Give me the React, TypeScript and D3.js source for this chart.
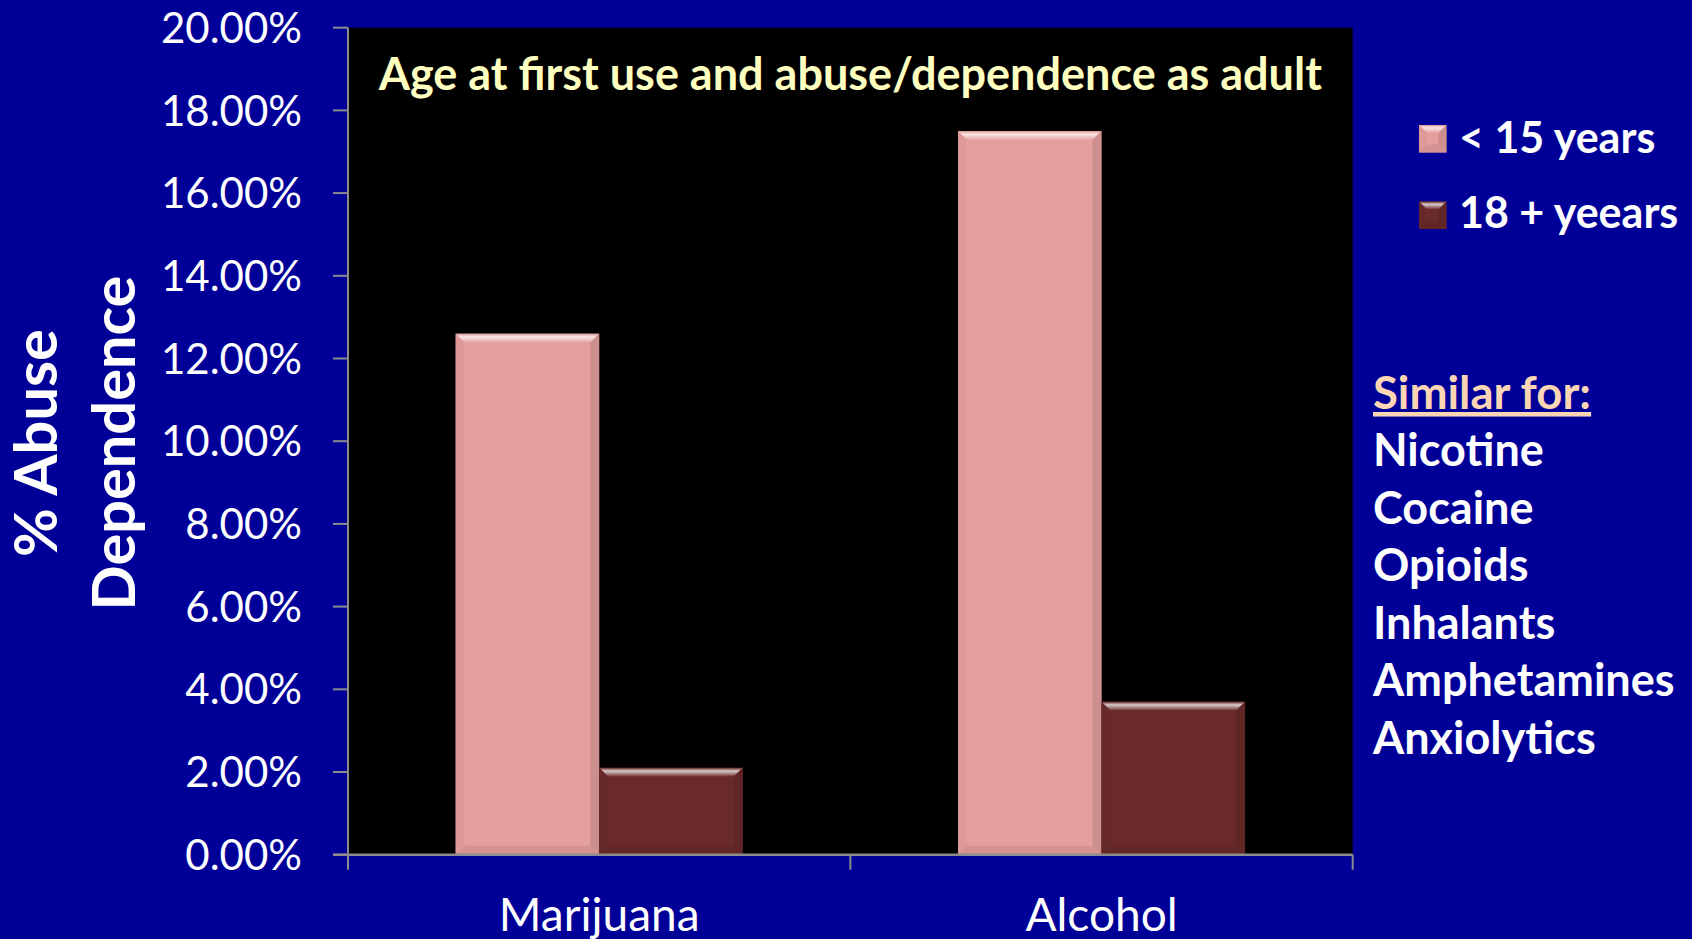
import React from "react";
import * as d3 from "d3";

// Chart data
const categories = ["Marijuana", "Alcohol"];
const seriesNames = ["< 15 years", "18 + yeears"];
const under15Values = [0.126, 0.175];
const over18Values = [0.021, 0.037];
const yTickValues = [0, 0.02, 0.04, 0.06, 0.08, 0.1, 0.12, 0.14, 0.16, 0.18, 0.2];
const similarHeading = "Similar for:";
const similarList = ["Nicotine", "Cocaine", "Opioids", "Inhalants", "Amphetamines", "Anxiolytics"];
const titleText = "Age at first use and abuse/dependence as adult";
const yAxisLines = ["% Abuse", "Dependence"];

const seriesColors = ["#E5A09E", "#6B2A2A"];

const W = 1692;
const H = 939;
const plot = { left: 348, right: 1352.7, top: 27.7, bottom: 854.7 };
const FONT = "Lato, 'Open Sans', sans-serif";

function BevelBox({ x, y, w, h, color, b, id }: { x: number; y: number; w: number; h: number; color: string; b: number; id: string }) {
  const c = d3.color(color)!;
  const light = d3.interpolateRgb(color, "#ffffff")(0.75);
  const right = c.darker(0.45).formatHex();
  const left = c.darker(0.12).formatHex();
  const bottom = c.darker(0.3).formatHex();
  const bb = Math.min(b, h / 2);
  const pts = (arr: number[][]) => arr.map((p) => p.join(",")).join(" ");
  return (
    <g>
      <defs>
        <linearGradient id={id} x1="0" y1="0" x2="0" y2="1">
          <stop offset="0" stopColor={c.darker(0.1).formatHex()} />
          <stop offset="0.35" stopColor={light} />
          <stop offset="1" stopColor={color} />
        </linearGradient>
      </defs>
      <rect x={x} y={y} width={w} height={h} fill={color} />
      <polygon points={pts([[x, y], [x + w, y], [x + w - bb, y + bb], [x + bb, y + bb]])} fill={`url(#${id})`} />
      <polygon points={pts([[x, y], [x + bb, y + bb], [x + bb, y + h - bb], [x, y + h]])} fill={left} opacity={0.8} />
      <polygon points={pts([[x + w, y], [x + w, y + h], [x + w - bb, y + h - bb], [x + w - bb, y + bb]])} fill={right} opacity={0.7} />
      <polygon points={pts([[x, y + h], [x + bb, y + h - bb], [x + w - bb, y + h - bb], [x + w, y + h]])} fill={bottom} opacity={0.8} />
    </g>
  );
}

export default function App() {
  const y = d3.scaleLinear().domain([0, 0.2]).range([plot.bottom, plot.top]);
  const x0 = d3.scaleBand<string>().domain(categories).range([plot.left, plot.right]).paddingInner(0).paddingOuter(0);
  const x1 = d3.scaleBand<string>().domain(seriesNames).range([0, x0.bandwidth()]).paddingInner(0).paddingOuter(0.75);
  const fmt = d3.format(".2%");
  const values = [under15Values, over18Values];
  const gray = "#8C8C8C";

  return (
    <svg width={W} height={H} style={{ position: "fixed", left: 0, top: 0 }} fontFamily={FONT}>
      <rect x={0} y={0} width={W} height={H} fill="#000099" />
      <rect x={plot.left} y={plot.top} width={plot.right - plot.left} height={plot.bottom - plot.top} fill="#000000" />

      {/* bars */}
      {categories.map((cat, ci) =>
        seriesNames.map((s, si) => {
          const v = values[si][ci];
          const bx = (x0(cat) as number) + (x1(s) as number);
          const by = y(v);
          return (
            <BevelBox key={cat + s} id={`g${ci}${si}`} x={bx} y={by} w={x1.bandwidth()} h={plot.bottom - by} color={seriesColors[si]} b={9} />
          );
        })
      )}

      {/* y axis */}
      <line x1={plot.left} x2={plot.left} y1={plot.top} y2={plot.bottom} stroke={gray} strokeWidth={2} />
      {yTickValues.map((t) => (
        <g key={t}>
          <line x1={plot.left - 15} x2={plot.left} y1={y(t)} y2={y(t)} stroke={gray} strokeWidth={2} />
          <text x={302} y={y(t)} dy="0.36em" textAnchor="end" fill="#ffffff" fontSize={42}>
            {fmt(t)}
          </text>
        </g>
      ))}

      {/* x axis */}
      <line x1={plot.left - 15} x2={plot.right} y1={plot.bottom} y2={plot.bottom} stroke={gray} strokeWidth={2.5} />
      {[plot.left, ...categories.map((c) => (x0(c) as number) + x0.bandwidth())].map((tx, i) => (
        <line key={i} x1={tx} x2={tx} y1={plot.bottom} y2={plot.bottom + 15} stroke={gray} strokeWidth={2} />
      ))}
      {categories.map((c) => (
        <text key={c} x={(x0(c) as number) + x0.bandwidth() / 2} y={931} textAnchor="middle" fill="#ffffff" fontSize={46}>
          {c}
        </text>
      ))}

      {/* title */}
      <text x={(plot.left + plot.right) / 2} y={89.5} textAnchor="middle" fill="#FFFFC0" fontSize={45} fontWeight={700}>
        {titleText}
      </text>

      {/* y axis label */}
      {yAxisLines.map((l, i) => (
        <text key={l} transform={`translate(${57 + i * 78},443) rotate(-90)`} textAnchor="middle" fill="#ffffff" fontSize={59.5} fontWeight={700}>
          {l}
        </text>
      ))}

      {/* legend */}
      {seriesNames.map((s, i) => (
        <g key={s}>
          <BevelBox id={`lg${i}`} x={1419} y={125 + i * 76.5} w={27.5} h={27.5} color={seriesColors[i]} b={8} />
          <text x={1459} y={153 + i * 75} fill="#ffffff" fontSize={43} fontWeight={700}>
            {s}
          </text>
        </g>
      ))}

      {/* note list */}
      <text x={1373} y={409} fill="#FCD5B4" fontSize={45.5} fontWeight={700} textDecoration="underline">
        {similarHeading}
      </text>
      {similarList.map((s, i) => (
        <text key={s} x={1373} y={466 + i * 57.6} fill="#ffffff" fontSize={45} fontWeight={700}>
          {s}
        </text>
      ))}
    </svg>
  );
}
